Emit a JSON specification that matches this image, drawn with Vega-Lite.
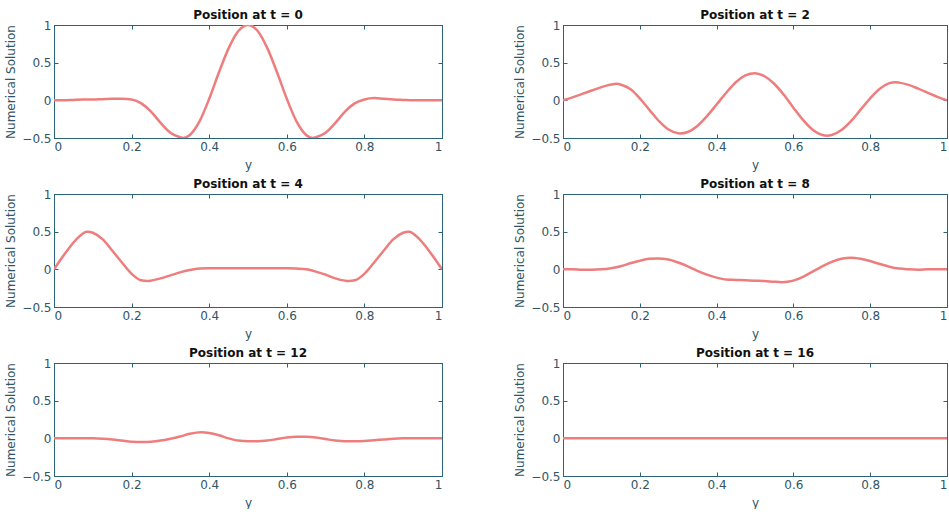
{
  "$schema": "https://vega.github.io/schema/vega-lite/v6.json",
  "padding": {"left": 4, "top": 8, "right": 0, "bottom": 0},
  "datasets": {
    "waves": [
      {"t": 0, "x": 0, "u": 0}, {"t": 0, "x": 0.025, "u": 0}, {"t": 0, "x": 0.05, "u": 0.005}, {"t": 0, "x": 0.075, "u": 0.01}, {"t": 0, "x": 0.1, "u": 0.01}, {"t": 0, "x": 0.125, "u": 0.015}, {"t": 0, "x": 0.15, "u": 0.02}, {"t": 0, "x": 0.175, "u": 0.02}, {"t": 0, "x": 0.2, "u": 0.01}, {"t": 0, "x": 0.225, "u": -0.04}, {"t": 0, "x": 0.25, "u": -0.15}, {"t": 0, "x": 0.275, "u": -0.3}, {"t": 0, "x": 0.3, "u": -0.43}, {"t": 0, "x": 0.325, "u": -0.49}, {"t": 0, "x": 0.3333, "u": -0.5}, {"t": 0, "x": 0.35, "u": -0.46}, {"t": 0, "x": 0.375, "u": -0.28}, {"t": 0, "x": 0.4, "u": 0.02}, {"t": 0, "x": 0.425, "u": 0.37}, {"t": 0, "x": 0.45, "u": 0.69}, {"t": 0, "x": 0.475, "u": 0.92}, {"t": 0, "x": 0.5, "u": 1}, {"t": 0, "x": 0.525, "u": 0.92}, {"t": 0, "x": 0.55, "u": 0.69}, {"t": 0, "x": 0.575, "u": 0.37}, {"t": 0, "x": 0.6, "u": 0.02}, {"t": 0, "x": 0.625, "u": -0.28}, {"t": 0, "x": 0.65, "u": -0.46}, {"t": 0, "x": 0.6667, "u": -0.5}, {"t": 0, "x": 0.675, "u": -0.49}, {"t": 0, "x": 0.7, "u": -0.43}, {"t": 0, "x": 0.725, "u": -0.3}, {"t": 0, "x": 0.75, "u": -0.15}, {"t": 0, "x": 0.775, "u": -0.04}, {"t": 0, "x": 0.8, "u": 0.01}, {"t": 0, "x": 0.825, "u": 0.03}, {"t": 0, "x": 0.85, "u": 0.02}, {"t": 0, "x": 0.875, "u": 0.01}, {"t": 0, "x": 0.9, "u": 0.005}, {"t": 0, "x": 0.925, "u": 0}, {"t": 0, "x": 0.95, "u": 0}, {"t": 0, "x": 0.975, "u": 0}, {"t": 0, "x": 1, "u": 0},

      {"t": 2, "x": 0, "u": 0}, {"t": 2, "x": 0.025, "u": 0.04}, {"t": 2, "x": 0.05, "u": 0.085}, {"t": 2, "x": 0.075, "u": 0.13}, {"t": 2, "x": 0.1, "u": 0.175}, {"t": 2, "x": 0.125, "u": 0.21}, {"t": 2, "x": 0.14, "u": 0.22}, {"t": 2, "x": 0.155, "u": 0.2}, {"t": 2, "x": 0.175, "u": 0.15}, {"t": 2, "x": 0.2, "u": 0.027}, {"t": 2, "x": 0.225, "u": -0.126}, {"t": 2, "x": 0.25, "u": -0.275}, {"t": 2, "x": 0.275, "u": -0.387}, {"t": 2, "x": 0.3, "u": -0.438}, {"t": 2, "x": 0.305, "u": -0.44}, {"t": 2, "x": 0.325, "u": -0.42}, {"t": 2, "x": 0.35, "u": -0.34}, {"t": 2, "x": 0.375, "u": -0.21}, {"t": 2, "x": 0.4, "u": -0.056}, {"t": 2, "x": 0.425, "u": 0.1}, {"t": 2, "x": 0.45, "u": 0.24}, {"t": 2, "x": 0.475, "u": 0.33}, {"t": 2, "x": 0.5, "u": 0.36}, {"t": 2, "x": 0.525, "u": 0.32}, {"t": 2, "x": 0.55, "u": 0.22}, {"t": 2, "x": 0.575, "u": 0.074}, {"t": 2, "x": 0.6, "u": -0.097}, {"t": 2, "x": 0.625, "u": -0.26}, {"t": 2, "x": 0.65, "u": -0.39}, {"t": 2, "x": 0.675, "u": -0.46}, {"t": 2, "x": 0.688, "u": -0.47}, {"t": 2, "x": 0.7, "u": -0.46}, {"t": 2, "x": 0.725, "u": -0.395}, {"t": 2, "x": 0.75, "u": -0.276}, {"t": 2, "x": 0.775, "u": -0.124}, {"t": 2, "x": 0.8, "u": 0.027}, {"t": 2, "x": 0.825, "u": 0.154}, {"t": 2, "x": 0.85, "u": 0.228}, {"t": 2, "x": 0.865, "u": 0.24}, {"t": 2, "x": 0.875, "u": 0.235}, {"t": 2, "x": 0.9, "u": 0.205}, {"t": 2, "x": 0.925, "u": 0.155}, {"t": 2, "x": 0.95, "u": 0.1}, {"t": 2, "x": 0.975, "u": 0.045}, {"t": 2, "x": 1, "u": 0},

      {"t": 4, "x": 0, "u": 0}, {"t": 4, "x": 0.02, "u": 0.15}, {"t": 4, "x": 0.04, "u": 0.29}, {"t": 4, "x": 0.06, "u": 0.41}, {"t": 4, "x": 0.085, "u": 0.5}, {"t": 4, "x": 0.1, "u": 0.485}, {"t": 4, "x": 0.125, "u": 0.4}, {"t": 4, "x": 0.15, "u": 0.25}, {"t": 4, "x": 0.175, "u": 0.09}, {"t": 4, "x": 0.2, "u": -0.06}, {"t": 4, "x": 0.225, "u": -0.145}, {"t": 4, "x": 0.24, "u": -0.155}, {"t": 4, "x": 0.25, "u": -0.15}, {"t": 4, "x": 0.275, "u": -0.12}, {"t": 4, "x": 0.3, "u": -0.08}, {"t": 4, "x": 0.325, "u": -0.04}, {"t": 4, "x": 0.35, "u": -0.01}, {"t": 4, "x": 0.375, "u": 0.01}, {"t": 4, "x": 0.4, "u": 0.015}, {"t": 4, "x": 0.45, "u": 0.015}, {"t": 4, "x": 0.5, "u": 0.015}, {"t": 4, "x": 0.55, "u": 0.015}, {"t": 4, "x": 0.6, "u": 0.015}, {"t": 4, "x": 0.625, "u": 0.01}, {"t": 4, "x": 0.65, "u": 0}, {"t": 4, "x": 0.675, "u": -0.03}, {"t": 4, "x": 0.7, "u": -0.07}, {"t": 4, "x": 0.725, "u": -0.12}, {"t": 4, "x": 0.75, "u": -0.15}, {"t": 4, "x": 0.76, "u": -0.155}, {"t": 4, "x": 0.775, "u": -0.145}, {"t": 4, "x": 0.8, "u": -0.06}, {"t": 4, "x": 0.825, "u": 0.09}, {"t": 4, "x": 0.85, "u": 0.25}, {"t": 4, "x": 0.875, "u": 0.4}, {"t": 4, "x": 0.9, "u": 0.485}, {"t": 4, "x": 0.915, "u": 0.5}, {"t": 4, "x": 0.94, "u": 0.41}, {"t": 4, "x": 0.96, "u": 0.29}, {"t": 4, "x": 0.98, "u": 0.15}, {"t": 4, "x": 1, "u": 0},

      {"t": 8, "x": 0, "u": 0}, {"t": 8, "x": 0.025, "u": 0}, {"t": 8, "x": 0.05, "u": -0.005}, {"t": 8, "x": 0.075, "u": -0.005}, {"t": 8, "x": 0.1, "u": 0}, {"t": 8, "x": 0.125, "u": 0.015}, {"t": 8, "x": 0.15, "u": 0.04}, {"t": 8, "x": 0.175, "u": 0.08}, {"t": 8, "x": 0.2, "u": 0.115}, {"t": 8, "x": 0.225, "u": 0.14}, {"t": 8, "x": 0.245, "u": 0.145}, {"t": 8, "x": 0.275, "u": 0.13}, {"t": 8, "x": 0.3, "u": 0.09}, {"t": 8, "x": 0.325, "u": 0.04}, {"t": 8, "x": 0.35, "u": -0.02}, {"t": 8, "x": 0.375, "u": -0.07}, {"t": 8, "x": 0.4, "u": -0.11}, {"t": 8, "x": 0.425, "u": -0.135}, {"t": 8, "x": 0.45, "u": -0.14}, {"t": 8, "x": 0.475, "u": -0.145}, {"t": 8, "x": 0.5, "u": -0.15}, {"t": 8, "x": 0.525, "u": -0.155}, {"t": 8, "x": 0.55, "u": -0.165}, {"t": 8, "x": 0.57, "u": -0.17}, {"t": 8, "x": 0.6, "u": -0.15}, {"t": 8, "x": 0.625, "u": -0.1}, {"t": 8, "x": 0.65, "u": -0.03}, {"t": 8, "x": 0.675, "u": 0.04}, {"t": 8, "x": 0.7, "u": 0.1}, {"t": 8, "x": 0.725, "u": 0.14}, {"t": 8, "x": 0.75, "u": 0.155}, {"t": 8, "x": 0.775, "u": 0.14}, {"t": 8, "x": 0.8, "u": 0.11}, {"t": 8, "x": 0.825, "u": 0.07}, {"t": 8, "x": 0.85, "u": 0.035}, {"t": 8, "x": 0.875, "u": 0.01}, {"t": 8, "x": 0.9, "u": 0}, {"t": 8, "x": 0.925, "u": -0.005}, {"t": 8, "x": 0.95, "u": 0}, {"t": 8, "x": 0.975, "u": 0}, {"t": 8, "x": 1, "u": 0},

      {"t": 12, "x": 0, "u": 0}, {"t": 12, "x": 0.05, "u": 0}, {"t": 12, "x": 0.1, "u": 0}, {"t": 12, "x": 0.125, "u": -0.005}, {"t": 12, "x": 0.15, "u": -0.015}, {"t": 12, "x": 0.175, "u": -0.03}, {"t": 12, "x": 0.2, "u": -0.045}, {"t": 12, "x": 0.225, "u": -0.05}, {"t": 12, "x": 0.25, "u": -0.045}, {"t": 12, "x": 0.275, "u": -0.03}, {"t": 12, "x": 0.3, "u": -0.005}, {"t": 12, "x": 0.325, "u": 0.025}, {"t": 12, "x": 0.35, "u": 0.06}, {"t": 12, "x": 0.38, "u": 0.08}, {"t": 12, "x": 0.4, "u": 0.07}, {"t": 12, "x": 0.425, "u": 0.04}, {"t": 12, "x": 0.45, "u": 0}, {"t": 12, "x": 0.475, "u": -0.03}, {"t": 12, "x": 0.5, "u": -0.04}, {"t": 12, "x": 0.525, "u": -0.04}, {"t": 12, "x": 0.55, "u": -0.03}, {"t": 12, "x": 0.575, "u": -0.01}, {"t": 12, "x": 0.6, "u": 0.01}, {"t": 12, "x": 0.625, "u": 0.02}, {"t": 12, "x": 0.65, "u": 0.02}, {"t": 12, "x": 0.675, "u": 0.01}, {"t": 12, "x": 0.7, "u": -0.01}, {"t": 12, "x": 0.725, "u": -0.03}, {"t": 12, "x": 0.75, "u": -0.04}, {"t": 12, "x": 0.775, "u": -0.04}, {"t": 12, "x": 0.8, "u": -0.035}, {"t": 12, "x": 0.825, "u": -0.025}, {"t": 12, "x": 0.85, "u": -0.015}, {"t": 12, "x": 0.875, "u": -0.005}, {"t": 12, "x": 0.9, "u": 0}, {"t": 12, "x": 0.95, "u": 0}, {"t": 12, "x": 1, "u": 0},

      {"t": 16, "x": 0, "u": 0}, {"t": 16, "x": 0.25, "u": 0}, {"t": 16, "x": 0.5, "u": 0}, {"t": 16, "x": 0.75, "u": 0}, {"t": 16, "x": 1, "u": 0}
    ]
  },
  "data": {"name": "waves"},
  "vconcat": [
    {"hconcat": [
      {"title": "Position at t = 0", "width": 388, "height": 113, "transform": [{"filter": "datum.t == 0"}],
       "encoding": {
         "x": {"field": "x", "type": "quantitative", "scale": {"domain": [0, 1], "nice": false, "zero": false}, "axis": {"title": "y", "values": [0, 0.2, 0.4, 0.6, 0.8, 1], "format": "~g"}},
         "y": {"field": "u", "type": "quantitative", "scale": {"domain": [-0.5, 1], "nice": false, "zero": false}, "axis": {"title": "Numerical Solution", "values": [-0.5, 0, 0.5, 1], "format": "~g"}}},
       "layer": [
         {"mark": {"type": "line", "color": "#ee7d7d", "strokeWidth": 2.5, "interpolate": "monotone", "clip": true}},
         {"mark": {"type": "line", "opacity": 0},
          "encoding": {
            "x": {"field": "x", "type": "quantitative", "scale": {"domain": [0, 1], "nice": false, "zero": false}, "axis": {"orient": "top", "title": null, "labels": false, "values": [0, 0.2, 0.4, 0.6, 0.8, 1]}},
            "y": {"field": "u", "type": "quantitative", "scale": {"domain": [-0.5, 1], "nice": false, "zero": false}, "axis": {"orient": "right", "title": null, "labels": false, "values": [-0.5, 0, 0.5, 1]}}}}
       ],
       "resolve": {"axis": {"x": "independent", "y": "independent"}}},
      {"title": "Position at t = 2", "width": 384, "height": 113, "transform": [{"filter": "datum.t == 2"}],
       "encoding": {
         "x": {"field": "x", "type": "quantitative", "scale": {"domain": [0, 1], "nice": false, "zero": false}, "axis": {"title": "y", "values": [0, 0.2, 0.4, 0.6, 0.8, 1], "format": "~g"}},
         "y": {"field": "u", "type": "quantitative", "scale": {"domain": [-0.5, 1], "nice": false, "zero": false}, "axis": {"title": "Numerical Solution", "values": [-0.5, 0, 0.5, 1], "format": "~g"}}},
       "layer": [
         {"mark": {"type": "line", "color": "#ee7d7d", "strokeWidth": 2.5, "interpolate": "monotone", "clip": true}},
         {"mark": {"type": "line", "opacity": 0},
          "encoding": {
            "x": {"field": "x", "type": "quantitative", "scale": {"domain": [0, 1], "nice": false, "zero": false}, "axis": {"orient": "top", "title": null, "labels": false, "values": [0, 0.2, 0.4, 0.6, 0.8, 1]}},
            "y": {"field": "u", "type": "quantitative", "scale": {"domain": [-0.5, 1], "nice": false, "zero": false}, "axis": {"orient": "right", "title": null, "labels": false, "values": [-0.5, 0, 0.5, 1]}}}}
       ],
       "resolve": {"axis": {"x": "independent", "y": "independent"}}}
    ]},
    {"hconcat": [
      {"title": "Position at t = 4", "width": 388, "height": 113, "transform": [{"filter": "datum.t == 4"}],
       "encoding": {
         "x": {"field": "x", "type": "quantitative", "scale": {"domain": [0, 1], "nice": false, "zero": false}, "axis": {"title": "y", "values": [0, 0.2, 0.4, 0.6, 0.8, 1], "format": "~g"}},
         "y": {"field": "u", "type": "quantitative", "scale": {"domain": [-0.5, 1], "nice": false, "zero": false}, "axis": {"title": "Numerical Solution", "values": [-0.5, 0, 0.5, 1], "format": "~g"}}},
       "layer": [
         {"mark": {"type": "line", "color": "#ee7d7d", "strokeWidth": 2.5, "interpolate": "monotone", "clip": true}},
         {"mark": {"type": "line", "opacity": 0},
          "encoding": {
            "x": {"field": "x", "type": "quantitative", "scale": {"domain": [0, 1], "nice": false, "zero": false}, "axis": {"orient": "top", "title": null, "labels": false, "values": [0, 0.2, 0.4, 0.6, 0.8, 1]}},
            "y": {"field": "u", "type": "quantitative", "scale": {"domain": [-0.5, 1], "nice": false, "zero": false}, "axis": {"orient": "right", "title": null, "labels": false, "values": [-0.5, 0, 0.5, 1]}}}}
       ],
       "resolve": {"axis": {"x": "independent", "y": "independent"}}},
      {"title": "Position at t = 8", "width": 384, "height": 113, "transform": [{"filter": "datum.t == 8"}],
       "encoding": {
         "x": {"field": "x", "type": "quantitative", "scale": {"domain": [0, 1], "nice": false, "zero": false}, "axis": {"title": "y", "values": [0, 0.2, 0.4, 0.6, 0.8, 1], "format": "~g"}},
         "y": {"field": "u", "type": "quantitative", "scale": {"domain": [-0.5, 1], "nice": false, "zero": false}, "axis": {"title": "Numerical Solution", "values": [-0.5, 0, 0.5, 1], "format": "~g"}}},
       "layer": [
         {"mark": {"type": "line", "color": "#ee7d7d", "strokeWidth": 2.5, "interpolate": "monotone", "clip": true}},
         {"mark": {"type": "line", "opacity": 0},
          "encoding": {
            "x": {"field": "x", "type": "quantitative", "scale": {"domain": [0, 1], "nice": false, "zero": false}, "axis": {"orient": "top", "title": null, "labels": false, "values": [0, 0.2, 0.4, 0.6, 0.8, 1]}},
            "y": {"field": "u", "type": "quantitative", "scale": {"domain": [-0.5, 1], "nice": false, "zero": false}, "axis": {"orient": "right", "title": null, "labels": false, "values": [-0.5, 0, 0.5, 1]}}}}
       ],
       "resolve": {"axis": {"x": "independent", "y": "independent"}}}
    ]},
    {"hconcat": [
      {"title": "Position at t = 12", "width": 388, "height": 113, "transform": [{"filter": "datum.t == 12"}],
       "encoding": {
         "x": {"field": "x", "type": "quantitative", "scale": {"domain": [0, 1], "nice": false, "zero": false}, "axis": {"title": "y", "values": [0, 0.2, 0.4, 0.6, 0.8, 1], "format": "~g"}},
         "y": {"field": "u", "type": "quantitative", "scale": {"domain": [-0.5, 1], "nice": false, "zero": false}, "axis": {"title": "Numerical Solution", "values": [-0.5, 0, 0.5, 1], "format": "~g"}}},
       "layer": [
         {"mark": {"type": "line", "color": "#ee7d7d", "strokeWidth": 2.5, "interpolate": "monotone", "clip": true}},
         {"mark": {"type": "line", "opacity": 0},
          "encoding": {
            "x": {"field": "x", "type": "quantitative", "scale": {"domain": [0, 1], "nice": false, "zero": false}, "axis": {"orient": "top", "title": null, "labels": false, "values": [0, 0.2, 0.4, 0.6, 0.8, 1]}},
            "y": {"field": "u", "type": "quantitative", "scale": {"domain": [-0.5, 1], "nice": false, "zero": false}, "axis": {"orient": "right", "title": null, "labels": false, "values": [-0.5, 0, 0.5, 1]}}}}
       ],
       "resolve": {"axis": {"x": "independent", "y": "independent"}}},
      {"title": "Position at t = 16", "width": 384, "height": 113, "transform": [{"filter": "datum.t == 16"}],
       "encoding": {
         "x": {"field": "x", "type": "quantitative", "scale": {"domain": [0, 1], "nice": false, "zero": false}, "axis": {"title": "y", "values": [0, 0.2, 0.4, 0.6, 0.8, 1], "format": "~g"}},
         "y": {"field": "u", "type": "quantitative", "scale": {"domain": [-0.5, 1], "nice": false, "zero": false}, "axis": {"title": "Numerical Solution", "values": [-0.5, 0, 0.5, 1], "format": "~g"}}},
       "layer": [
         {"mark": {"type": "line", "color": "#ee7d7d", "strokeWidth": 2.5, "interpolate": "monotone", "clip": true}},
         {"mark": {"type": "line", "opacity": 0},
          "encoding": {
            "x": {"field": "x", "type": "quantitative", "scale": {"domain": [0, 1], "nice": false, "zero": false}, "axis": {"orient": "top", "title": null, "labels": false, "values": [0, 0.2, 0.4, 0.6, 0.8, 1]}},
            "y": {"field": "u", "type": "quantitative", "scale": {"domain": [-0.5, 1], "nice": false, "zero": false}, "axis": {"orient": "right", "title": null, "labels": false, "values": [-0.5, 0, 0.5, 1]}}}}
       ],
       "resolve": {"axis": {"x": "independent", "y": "independent"}}}
    ]}
  ],
  "spacing": 6,
  "config": {
    "concat": {"spacing": 70},
    "view": {"stroke": "#2a6478", "strokeWidth": 1},
    "title": {"font": "DejaVu Sans", "fontSize": 12, "fontWeight": "bold", "color": "#111111", "offset": -3, "frame": "group", "anchor": "middle"},
    "axis": {
      "grid": false,
      "domainColor": "#2a6478",
      "tickColor": "#2a6478",
      "tickSize": -4,
      "labelPadding": 7,
      "labelFont": "DejaVu Sans",
      "labelFontSize": 12,
      "labelColor": "#2f5566",
      "titleFont": "DejaVu Sans",
      "titleFontSize": 12,
      "titleFontWeight": "normal",
      "titleColor": "#2f5566"
    },
    "axisX": {"titlePadding": 7},
    "axisY": {"titlePadding": 4}
  }
}
